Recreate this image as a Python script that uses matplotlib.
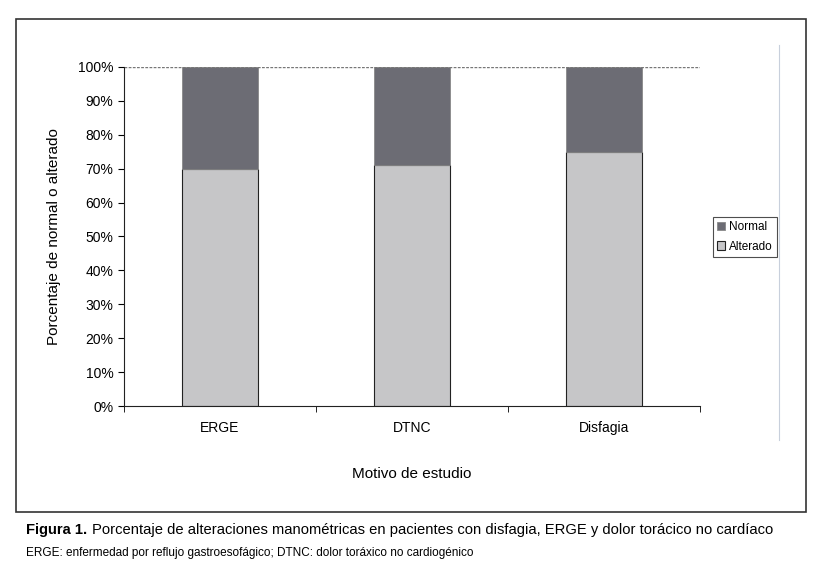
import matplotlib
matplotlib.use("Agg")
import numpy as np
import matplotlib.pyplot as plt
from matplotlib.patches import Rectangle
from matplotlib.ticker import PercentFormatter

plt.rcParams['font.family'] = ['Liberation Sans', 'DejaVu Sans']

categorias = ["ERGE", "DTNC", "Disfagia"]
alterado = [70, 71, 75]
normal = [30, 29, 25]
yticks = [0, 10, 20, 30, 40, 50, 60, 70, 80, 90, 100]

fig = plt.figure(figsize=(8.17, 5.72), dpi=100)

# marco exterior
fig.patches.append(Rectangle((0.0196, 0.105), 0.967, 0.862, transform=fig.transFigure,
                             fill=False, edgecolor="#333333", linewidth=1.2))
# linea vertical clara a la derecha
fig.add_artist(plt.Line2D([779/817, 779/817], [1-45/572, 1-440/572], transform=fig.transFigure,
                          color="#c8d0dc", linewidth=0.8))

ax = fig.add_axes([124/817, 1-406/572, 576/817, 339/572])
x = np.arange(len(categorias))
ax.bar(x, alterado, width=0.4, color="#c6c6c8", edgecolor="#222222", linewidth=0.8, label="Alterado")
ax.bar(x, normal, width=0.4, bottom=alterado, color="#6c6c74", edgecolor="#888888", linewidth=0.6, label="Normal")

ax.set_xlim(-0.5, 2.5)
ax.set_ylim(0, 100)
ax.set_yticks(yticks)
ax.yaxis.set_major_formatter(PercentFormatter(decimals=0))
ax.set_xticks(x)
ax.set_xticklabels(categorias)
ax.set_xticks(np.arange(-0.5, 3.0, 1.0), minor=True)
ax.tick_params(axis='x', which='major', length=0, labelsize=10, pad=11)
ax.tick_params(axis='x', which='minor', length=4, direction='out')
ax.tick_params(axis='y', length=4, direction='out', labelsize=10)
ax.axhline(100, color="#777777", linewidth=1, linestyle=(0, (2, 1)))
for s in ["top", "right"]:
    ax.spines[s].set_visible(False)
ax.spines["left"].set_color("#222222")
ax.spines["bottom"].set_color("#222222")

ax.set_ylabel("Porcentaje de normal o alterado", fontsize=11, labelpad=12)
ax.set_xlabel("Motivo de estudio", fontsize=11, labelpad=23)

h, l = ax.get_legend_handles_labels()
leg = fig.legend(h[::-1], l[::-1], loc="center", bbox_to_anchor=(745/817, 1-237/572),
                 fontsize=8.5, frameon=True, fancybox=False, edgecolor="#222222",
                 handlelength=0.7, handleheight=0.7, handletextpad=0.3, borderpad=0.4,
                 labelspacing=0.6)
leg.get_frame().set_linewidth(0.8)

fig.text(26/817, 1-530/572, "Figura 1.", fontsize=10.6, fontweight="bold", va="center")
fig.text(92/817, 1-530/572, "Porcentaje de alteraciones manométricas en pacientes con disfagia, ERGE y dolor torácico no cardíaco",
         fontsize=10.65, va="center")
fig.text(26/817, 1-553/572, "ERGE: enfermedad por reflujo gastroesofágico; DTNC: dolor toráxico no cardiogénico",
         fontsize=8.5, va="center")

fig.savefig("out.png", dpi=100)
